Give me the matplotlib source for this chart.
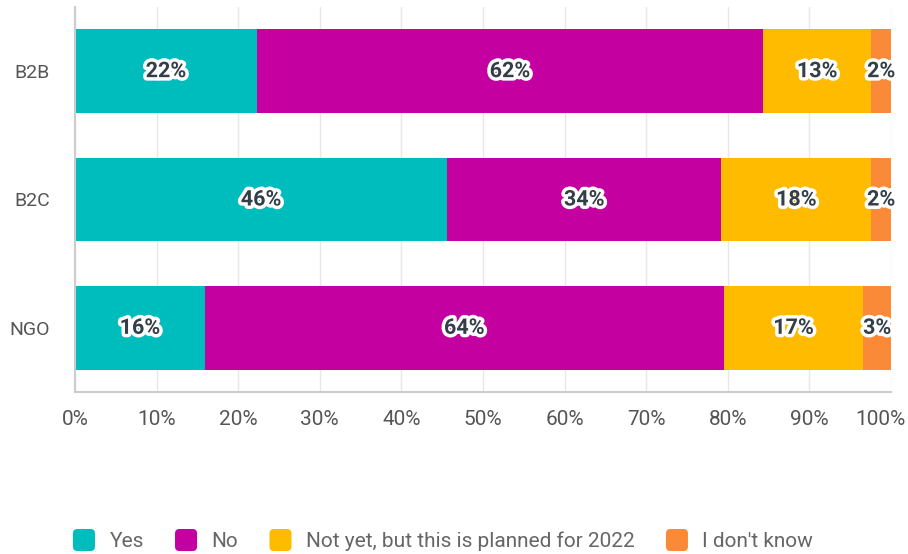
import matplotlib
matplotlib.use("Agg")
import matplotlib.pyplot as plt
import matplotlib.patheffects as pe
import matplotlib.transforms as mtransforms
from matplotlib.patches import FancyBboxPatch, Patch
from matplotlib.legend_handler import HandlerPatch
import numpy as np

plt.rcParams['font.family'] = ['Roboto', 'DejaVu Sans']

# Survey response shares (%) per organisation type
categories = ["B2B", "B2C", "NGO"]
series_names = ["Yes", "No", "Not yet, but this is planned for 2022", "I don't know"]
yes_vals = [22.3, 45.6, 15.9]
no_vals = [62.0, 33.6, 63.6]
planned_vals = [13.3, 18.4, 17.1]
unknown_vals = [2.4, 2.4, 3.4]
x_ticks = [0, 10, 20, 30, 40, 50, 60, 70, 80, 90, 100]
x_tick_labels = [f"{t}%" for t in x_ticks]

colors = ["#00bdbd", "#c400a0", "#ffbb00", "#fb8a38"]
series = [yes_vals, no_vals, planned_vals, unknown_vals]


class RoundedHandler(HandlerPatch):
    def create_artists(self, legend, orig_handle, xdescent, ydescent,
                       width, height, fontsize, trans):
        size = min(width, height)
        p = FancyBboxPatch((-xdescent, -ydescent + (height - size) / 2), size, size,
                           boxstyle=f"round,pad=0,rounding_size={size * 0.2}",
                           facecolor=orig_handle.get_facecolor(),
                           edgecolor="none", transform=trans)
        return [p]


fig = plt.figure(figsize=(9.08, 5.54), dpi=100)
ax = fig.add_axes([75 / 908, 1 - 392 / 554, (891 - 75) / 908, (392 - 7) / 554])

y = np.arange(len(categories))
left = np.zeros(len(categories))
for name, vals, col in zip(series_names, series, colors):
    vals = np.array(vals)
    ax.barh(y, vals, left=left, height=0.65, color=col, label=name, zorder=2)
    for yi, l, v in zip(y, left, vals):
        ax.text(l + v / 2, yi, f"{round(v)}%", ha="center", va="center",
                fontsize=15.5, fontweight="bold", color="#333e48", zorder=3,
                path_effects=[pe.withStroke(linewidth=5, foreground="white",
                                            capstyle="round", joinstyle="round")])
    left = left + vals

ax.set_xlim(0, 100)
ax.set_ylim(2.5, -0.5)
ax.set_yticks(y)
ax.set_yticklabels(categories)
ax.set_xticks(x_ticks)
ax.set_xticklabels(x_tick_labels)
ax.tick_params(axis="both", length=0, labelcolor="#555555")
ax.tick_params(axis="x", pad=13, labelsize=15)
ax.tick_params(axis="y", pad=18, labelsize=14)
ax.grid(axis="x", color="#e8e8e8", linewidth=1, zorder=0)
ax.set_axisbelow(True)
for s in ["top", "right"]:
    ax.spines[s].set_visible(False)
for s in ["left", "bottom"]:
    ax.spines[s].set_color("#cccccc")
    ax.spines[s].set_linewidth(1.5)

# keep the last tick label inside the canvas
last = ax.get_xticklabels()[-1]
last.set_transform(last.get_transform() +
                   mtransforms.ScaledTranslation(-11 / 100, 0, fig.dpi_scale_trans))

handles = [Patch(facecolor=c, label=n) for c, n in zip(colors, series_names)]
leg = fig.legend(handles=handles, loc="upper center", ncol=4,
                 bbox_to_anchor=(0.488, 1 - 529 / 554), frameon=False,
                 fontsize=15, handlelength=1.25, handleheight=1.25,
                 handletextpad=0.5, columnspacing=1.5, borderpad=0,
                 borderaxespad=0,
                 handler_map={Patch: RoundedHandler()})
for t in leg.get_texts():
    t.set_color("#666666")

fig.savefig("out.png", dpi=100)
